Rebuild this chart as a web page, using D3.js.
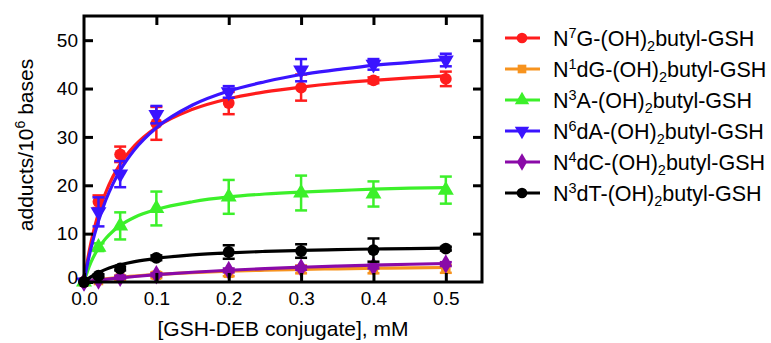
<!DOCTYPE html>
<html>
<head>
<meta charset="utf-8">
<script src="https://cdn.jsdelivr.net/npm/d3@7.9.0/dist/d3.min.js"></script>
<style>
  body { margin: 0; background: #fff; }
  svg { font-family: "Liberation Sans", Arial, sans-serif; }
</style>
</head>
<body>
<svg id="chart" width="771" height="343"></svg>
<script>
// concentrations of the measured points (mM)
const conc = [0, 0.02, 0.05, 0.1, 0.2, 0.3, 0.4, 0.5];
// x positions used to trace the fitted curves
const fitConc = [0, 0.005, 0.01, 0.02, 0.03, 0.04, 0.05, 0.07, 0.1, 0.15, 0.2, 0.25, 0.3, 0.35, 0.4, 0.45, 0.5];

const xTicks = [0, 0.1, 0.2, 0.3, 0.4, 0.5];
const yTicks = [0, 10, 20, 30, 40, 50];

// series: name parts (base, superscript, rest), colour, marker
const names = [
  ['N', '7', 'G'], ['N', '1', 'dG'], ['N', '3', 'A'],
  ['N', '6', 'dA'], ['N', '4', 'dC'], ['N', '3', 'dT']
];
const colors = ['#ff1c1c', '#f7931e', '#3cf02a', '#3a14ff', '#8a0aa8', '#000000'];
const markers = ['circle', 'square', 'triUp', 'triDown', 'diamond', 'circle'];

// mean adducts per 10^6 bases
const means = [
  [0, 16.6, 26.4, 32.8, 37.0, 40.2, 41.7, 42.0],
  [0, 0.3, 0.8, 1.4, 1.8, 2.6, 2.6, 2.7],
  [0, 7.2, 11.6, 15.2, 17.6, 18.4, 18.2, 19.0],
  [0, 14.5, 22.3, 34.6, 39.3, 43.8, 45.0, 45.9],
  [0, 0.4, 1.0, 1.5, 2.4, 2.9, 3.2, 3.7],
  [0, 1.3, 2.8, 5.0, 6.2, 6.4, 6.6, 6.9]
];
// error bar half-lengths
const errs = [
  [0, 1.3, 1.6, 3.4, 2.3, 2.7, 0.6, 1.5],
  [0, 0.2, 0.5, 0.6, 0.6, 0.8, 0.8, 0.8],
  [0, 0.8, 2.8, 3.5, 3.5, 3.6, 2.6, 2.8],
  [0, 3.0, 2.7, 1.8, 1.2, 2.3, 1.1, 1.3],
  [0, 0.2, 0.3, 0.3, 0.4, 0.4, 0.4, 0.4],
  [0, 0.3, 0.4, 0.5, 1.4, 1.4, 2.4, 0.4]
];
// fitted curves at fitConc
const fits = [
  [0, 4.6, 8.4, 14.3, 18.5, 21.8, 24.4, 28.2, 32.0, 35.7, 37.9, 39.3, 40.3, 41.1, 41.7, 42.2, 42.6],
  [0, 0.13, 0.24, 0.46, 0.65, 0.82, 0.98, 1.24, 1.56, 1.95, 2.23, 2.44, 2.6, 2.73, 2.84, 2.93, 3.0],
  [0, 2.3, 4.2, 7.0, 9.0, 10.5, 11.7, 13.4, 15.0, 16.6, 17.6, 18.2, 18.6, 18.9, 19.2, 19.4, 19.5],
  [0, 3.9, 7.2, 12.6, 16.9, 20.3, 23.1, 27.4, 31.9, 36.6, 39.5, 41.4, 42.9, 43.9, 44.8, 45.4, 46.0],
  [0, 0.1, 0.19, 0.38, 0.55, 0.71, 0.86, 1.14, 1.51, 2.02, 2.43, 2.77, 3.05, 3.29, 3.49, 3.67, 3.83],
  [0, 0.6, 1.12, 1.96, 2.61, 3.14, 3.56, 4.22, 4.9, 5.6, 6.03, 6.32, 6.53, 6.69, 6.82, 6.92, 7.0]
];

const svg = d3.select('#chart');
const x = d3.scaleLinear().domain([0, 0.55]).range([84, 482]);
const y = d3.scaleLinear().domain([0, 55]).range([282, 16]);

function markerPath(kind, size) {
  const types = {
    circle: d3.symbolCircle, square: d3.symbolSquare,
    triUp: d3.symbolTriangle, triDown: d3.symbolTriangle, diamond: d3.symbolDiamond
  };
  return d3.symbol().type(types[kind]).size(size)();
}
function markerRotate(kind) { return kind === 'triDown' ? ' rotate(180)' : ''; }

const plot = svg.append('g');
const line = d3.line().x(d => x(d[0])).y(d => y(d[1])).curve(d3.curveMonotoneX);

means.forEach((vals, i) => {
  const g = plot.append('g');
  const c = colors[i];
  // error bars
  conc.forEach((cx, j) => {
    const e = errs[i][j];
    if (!e) return;
    const px = x(cx), top = y(vals[j] + e), bot = y(vals[j] - e);
    g.append('line').attr('x1', px).attr('x2', px).attr('y1', top).attr('y2', bot)
      .attr('stroke', c).attr('stroke-width', 2.5);
    [top, bot].forEach(yy => g.append('line')
      .attr('x1', px - 6).attr('x2', px + 6).attr('y1', yy).attr('y2', yy)
      .attr('stroke', c).attr('stroke-width', 2.5));
  });
  // fitted curve
  g.append('path').datum(fitConc.map((fx, k) => [fx, fits[i][k]]))
    .attr('d', line).attr('fill', 'none').attr('stroke', c).attr('stroke-width', 3.2);
  // points
  g.selectAll('path.pt').data(conc.map((cx, j) => [cx, vals[j]])).enter()
    .append('path').attr('class', 'pt')
    .attr('d', markerPath(markers[i], markers[i] === 'square' ? 90 : 110))
    .attr('transform', d => `translate(${x(d[0])},${y(d[1])})${markerRotate(markers[i])}`)
    .attr('fill', c);
});

// frame with inward ticks on all four sides
const frame = svg.append('g');
const tickLen = 9;
const axisStyle = sel => {
  sel.select('.domain').remove();
  sel.selectAll('.tick line').attr('stroke', '#000').attr('stroke-width', 3);
  sel.selectAll('.tick text').attr('font-size', 19).attr('fill', '#000')
    .attr('font-family', '"Liberation Sans", Arial, sans-serif');
};
frame.append('g').attr('transform', 'translate(0,282)')
  .call(d3.axisBottom(x).tickValues(xTicks).tickFormat(d3.format('.1f')).tickSizeInner(-tickLen).tickPadding(10))
  .call(axisStyle);
frame.append('g').attr('transform', 'translate(0,16)')
  .call(d3.axisTop(x).tickValues(xTicks.slice(1)).tickFormat('').tickSizeInner(-tickLen))
  .call(axisStyle);
frame.append('g').attr('transform', 'translate(84,0)')
  .call(d3.axisLeft(y).tickValues(yTicks).tickFormat(d3.format('d')).tickSizeInner(-tickLen).tickPadding(6))
  .call(axisStyle)
  .call(g => g.selectAll('.tick text').filter(d => d === 0).attr('dy', '0.1em'));
frame.append('g').attr('transform', 'translate(482,0)')
  .call(d3.axisRight(y).tickValues(yTicks.slice(1)).tickFormat('').tickSizeInner(-tickLen))
  .call(axisStyle);
frame.append('rect').attr('x', x(0)).attr('y', y(55))
  .attr('width', x(0.55) - x(0)).attr('height', y(0) - y(55))
  .attr('fill', 'none').attr('stroke', '#000').attr('stroke-width', 3);

// axis titles
svg.append('text').attr('x', (x(0) + x(0.55)) / 2).attr('y', 336)
  .attr('text-anchor', 'middle').attr('font-size', 21)
  .text('[GSH-DEB conjugate], mM');
const yt = svg.append('text').attr('transform', 'translate(33,145) rotate(-90)')
  .attr('text-anchor', 'middle').attr('font-size', 21);
yt.append('tspan').text('adducts/10');
yt.append('tspan').attr('font-size', 14).attr('dy', -8).text('6');
yt.append('tspan').attr('dy', 8).text(' bases');

// legend
const legend = svg.append('g');
names.forEach((n, i) => {
  const ly = 38 + i * 31;
  const c = colors[i];
  legend.append('line').attr('x1', 505).attr('x2', 540).attr('y1', ly).attr('y2', ly)
    .attr('stroke', c).attr('stroke-width', 3.2);
  legend.append('path').attr('d', markerPath(markers[i], markers[i] === 'square' ? 75 : 90))
    .attr('transform', `translate(522,${ly})${markerRotate(markers[i])}`).attr('fill', c);
  const t = legend.append('text').attr('x', 553).attr('y', ly + 8).attr('font-size', 21.5);
  t.append('tspan').text(n[0]);
  t.append('tspan').attr('font-size', 14.5).attr('dy', -8).text(n[1]);
  t.append('tspan').attr('dy', 8).text(n[2] + '-(OH)');
  t.append('tspan').attr('font-size', 14.5).attr('dy', 5).text('2');
  t.append('tspan').attr('dy', -5).text('butyl-GSH');
});
</script>
</body>
</html>
